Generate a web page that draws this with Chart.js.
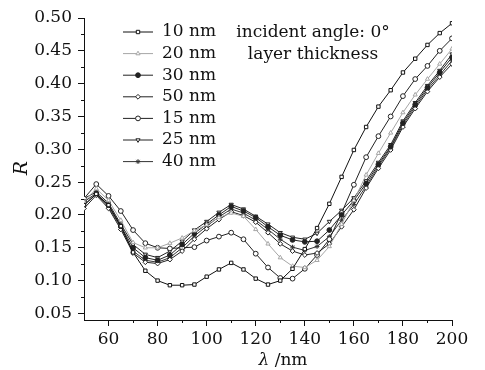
<!DOCTYPE html>
<html>
<head>
<meta charset="utf-8">
<script src="https://cdn.jsdelivr.net/npm/chart.js@4.4.0/dist/chart.umd.min.js"></script>
<style>
  html, body { margin: 0; padding: 0; background: #fff; }
</style>
</head>
<body>
<canvas id="chart" width="485" height="370"></canvas>
<script>
const wavelengths = [50, 55, 60, 65, 70, 75, 80, 85, 90, 95, 100, 105, 110, 115, 120, 125, 130, 135, 140, 145, 150, 155, 160, 165, 170, 175, 180, 185, 190, 195, 200];

const r10 = [0.215, 0.232, 0.215, 0.183, 0.143, 0.115, 0.100, 0.093, 0.093, 0.094, 0.106, 0.117, 0.127, 0.117, 0.103, 0.094, 0.100, 0.118, 0.148, 0.180, 0.217, 0.258, 0.299, 0.334, 0.365, 0.390, 0.417, 0.438, 0.459, 0.477, 0.492];
const r15 = [0.225, 0.247, 0.229, 0.206, 0.177, 0.157, 0.150, 0.149, 0.150, 0.151, 0.161, 0.167, 0.173, 0.163, 0.141, 0.120, 0.104, 0.103, 0.118, 0.139, 0.163, 0.203, 0.246, 0.288, 0.320, 0.350, 0.381, 0.407, 0.427, 0.450, 0.469];
const r20 = [0.220, 0.240, 0.222, 0.192, 0.158, 0.150, 0.150, 0.157, 0.165, 0.176, 0.185, 0.196, 0.203, 0.198, 0.178, 0.156, 0.135, 0.122, 0.120, 0.131, 0.152, 0.186, 0.222, 0.261, 0.294, 0.325, 0.356, 0.383, 0.407, 0.430, 0.453];
const r25 = [0.225, 0.235, 0.218, 0.186, 0.155, 0.140, 0.135, 0.145, 0.160, 0.177, 0.190, 0.204, 0.216, 0.209, 0.198, 0.186, 0.173, 0.166, 0.163, 0.172, 0.190, 0.207, 0.226, 0.252, 0.280, 0.307, 0.343, 0.371, 0.397, 0.420, 0.445];
const r30 = [0.220, 0.233, 0.215, 0.183, 0.150, 0.135, 0.131, 0.139, 0.155, 0.172, 0.186, 0.200, 0.213, 0.206, 0.196, 0.182, 0.169, 0.162, 0.159, 0.160, 0.177, 0.200, 0.222, 0.248, 0.277, 0.304, 0.340, 0.368, 0.394, 0.417, 0.440];
const r40 = [0.215, 0.232, 0.212, 0.181, 0.145, 0.131, 0.128, 0.135, 0.150, 0.168, 0.183, 0.197, 0.209, 0.203, 0.192, 0.178, 0.163, 0.151, 0.146, 0.152, 0.167, 0.192, 0.216, 0.244, 0.274, 0.302, 0.337, 0.365, 0.391, 0.413, 0.435];
const r50 = [0.210, 0.230, 0.210, 0.178, 0.142, 0.128, 0.126, 0.132, 0.145, 0.163, 0.179, 0.193, 0.205, 0.199, 0.189, 0.173, 0.156, 0.145, 0.139, 0.142, 0.156, 0.182, 0.208, 0.241, 0.271, 0.299, 0.334, 0.362, 0.388, 0.410, 0.430];

const xTicks = [60, 80, 100, 120, 140, 160, 180, 200];
const xMinor = [70, 90, 110, 130, 150, 170, 190];
const yTicks = [0.05, 0.10, 0.15, 0.20, 0.25, 0.30, 0.35, 0.40, 0.45, 0.50];
const yMinor = [0.075, 0.125, 0.175, 0.225, 0.275, 0.325, 0.375, 0.425, 0.475];

const noteLines = ["incident angle: 0°", "layer thickness"];

const FONT = '"DejaVu Serif", serif';
const INK = "#111";

function series(label, data, color, style, fill, rotation) {
  return {
    label,
    data: data.map((v, i) => ({ x: wavelengths[i], y: v })),
    borderColor: color,
    borderWidth: 1,
    pointStyle: style,
    pointRotation: rotation || 0,
    pointRadius: 2.4,
    pointBorderWidth: 1,
    pointBorderColor: color,
    pointBackgroundColor: fill ? color : "#fff",
    tension: 0
  };
}

const datasets = [
  series("10 nm", r10, "#111", "rect", false),
  series("20 nm", r20, "#a6a6a6", "triangle", false),
  series("30 nm", r30, "#222", "circle", true),
  series("50 nm", r50, "#222", "rectRot", false),
  series("15 nm", r15, "#222", "circle", false),
  series("25 nm", r25, "#222", "triangle", false, 180),
  series("40 nm", r40, "#333", "star", false)
];

const overlay = {
  id: "overlay",
  afterDraw(chart) {
    const { ctx, chartArea, scales: { x, y } } = chart;
    ctx.save();

    // minor ticks
    ctx.strokeStyle = INK;
    ctx.lineWidth = 1;
    ctx.beginPath();
    for (const v of xMinor) {
      const px = Math.round(x.getPixelForValue(v)) + 0.5;
      ctx.moveTo(px, chartArea.bottom);
      ctx.lineTo(px, chartArea.bottom + 3);
    }
    for (const v of yMinor) {
      const py = Math.round(y.getPixelForValue(v)) + 0.5;
      ctx.moveTo(chartArea.left, py);
      ctx.lineTo(chartArea.left - 3, py);
    }
    ctx.stroke();

    // legend
    ctx.font = "17px " + FONT;
    ctx.textBaseline = "middle";
    ctx.textAlign = "left";
    chart.data.datasets.forEach((ds, i) => {
      const ly = 32 + i * 21.6;
      ctx.strokeStyle = ds.borderColor;
      ctx.lineWidth = 1;
      ctx.beginPath();
      ctx.moveTo(123, ly);
      ctx.lineTo(153, ly);
      ctx.stroke();
      ctx.fillStyle = ds.pointBackgroundColor;
      ctx.strokeStyle = ds.pointBorderColor;
      Chart.helpers.drawPoint(ctx, {
        pointStyle: ds.pointStyle,
        rotation: ds.pointRotation,
        radius: 2.4,
        borderWidth: 1
      }, 138, ly);
      ctx.fillStyle = INK;
      ctx.fillText(ds.label, 162, ly);
    });

    // note
    ctx.textAlign = "center";
    ctx.fillText(noteLines[0], 313, 33);
    ctx.fillText(noteLines[1], 313, 55);

    // axis titles
    ctx.save();
    ctx.translate(22, 168);
    ctx.rotate(-Math.PI / 2);
    ctx.font = "italic 19px " + FONT;
    ctx.fillText("R", 0, 0);
    ctx.restore();

    const lam = "λ";
    const rest = " /nm";
    ctx.font = "italic 17px " + FONT;
    const w1 = ctx.measureText(lam).width;
    ctx.font = "17px " + FONT;
    const w2 = ctx.measureText(rest).width;
    const sx = 283 - (w1 + w2) / 2;
    ctx.textAlign = "left";
    ctx.font = "italic 17px " + FONT;
    ctx.fillText(lam, sx, 361);
    ctx.font = "17px " + FONT;
    ctx.fillText(rest, sx + w1, 361);

    ctx.restore();
  }
};

new Chart(document.getElementById("chart"), {
  type: "line",
  data: { datasets },
  options: {
    responsive: false,
    animation: false,
    devicePixelRatio: 1,
    layout: { padding: { left: 0, right: 33, top: 18, bottom: 0 } },
    plugins: {
      legend: { display: false },
      tooltip: { enabled: false }
    },
    scales: {
      x: {
        type: "linear",
        min: 50,
        max: 200,
        afterBuildTicks: (s) => { s.ticks = xTicks.map((v) => ({ value: v })); },
        afterFit: (s) => { s.height = 50; },
        ticks: { font: { family: FONT, size: 17 }, color: INK, padding: 3, maxRotation: 0 },
        grid: { drawOnChartArea: false, tickLength: 6, tickColor: INK },
        border: { color: INK, width: 1 }
      },
      y: {
        min: 0.04,
        max: 0.5,
        afterBuildTicks: (s) => { s.ticks = yTicks.map((v) => ({ value: v })); },
        afterFit: (s) => { s.width = 84; },
        ticks: {
          font: { family: FONT, size: 17 },
          color: INK,
          padding: 6,
          callback: (v) => v.toFixed(2)
        },
        grid: { drawOnChartArea: false, tickLength: 6, tickColor: INK },
        border: { color: INK, width: 1 }
      }
    }
  },
  plugins: [overlay]
});
</script>
</body>
</html>
